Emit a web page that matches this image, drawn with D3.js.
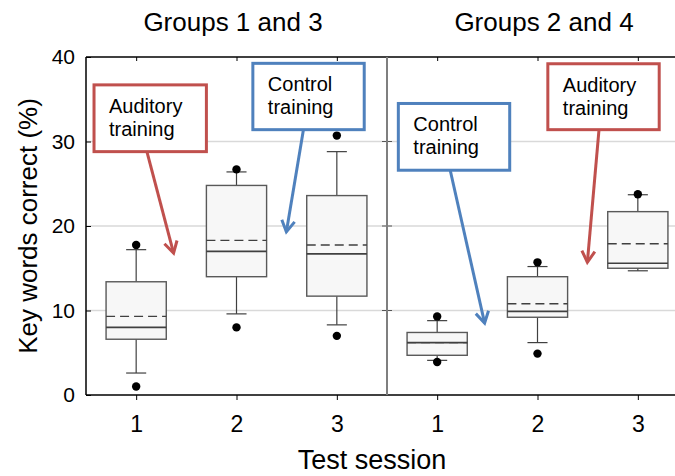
<!DOCTYPE html>
<html>
<head>
<meta charset="utf-8">
<script src="https://cdn.jsdelivr.net/npm/d3@7"></script>
<style>
  body { margin: 0; background: #fff; }
  svg { display: block; font-family: "Liberation Sans", Arial, sans-serif; }
</style>
</head>
<body>
<div id="chart"></div>
<script>
// values
const sessions = [1, 2, 3];
const panelTitles = ["Groups 1 and 3", "Groups 2 and 4"];
const yTicks = [0, 10, 20, 30, 40];

// per panel, one entry per session
const lowDot    = [[1.0, 8.0, 7.0],    [3.9, 4.9, null]];
const whiskLow  = [[2.6, 9.6, 8.3],    [4.1, 6.2, 14.7]];
const q1        = [[6.6, 14.0, 11.7],  [4.7, 9.2, 15.0]];
const median    = [[8.0, 17.0, 16.7],  [6.2, 9.9, 15.6]];
const mean      = [[9.3, 18.3, 17.75], [6.2, 10.8, 17.9]];
const q3        = [[13.4, 24.8, 23.6], [7.4, 14.0, 21.7]];
const whiskHigh = [[17.2, 26.4, 28.8], [8.8, 15.2, 23.7]];
const highDot   = [[17.75, 26.7, 30.7],[9.3, 15.7, 23.75]];

// callouts: panel, box corners (session, value), arrow from -> to
const calloutLabels = [["Auditory", "training"], ["Control", "training"], ["Control", "training"], ["Auditory", "training"]];
const calloutPanel  = [0, 0, 1, 1];
const calloutColor  = ["#c0504d", "#4f81bd", "#4f81bd", "#c0504d"];
const calloutBox    = [[0.58, 36.7, 1.70, 28.8], [2.163, 39.25, 3.273, 31.4], [0.613, 34.5, 1.723, 26.6], [2.103, 39.2, 3.213, 31.4]];
const calloutArrow  = [[1.107, 28.8, 1.373, 16.8], [2.667, 31.4, 2.497, 19.3], [1.13, 26.6, 1.473, 8.5], [2.613, 31.4, 2.497, 15.7]];

const svgWidth = 675;
const svgHeight = 476;
const plotTop = 57, plotBottom = 395, plotLeft = 86, plotRight = 675;

const svg = d3.select("#chart").append("svg")
    .attr("width", svgWidth)
    .attr("height", svgHeight);

const yScale = d3.scaleLinear().domain([0, 40]).range([plotBottom, plotTop]);
const xScales = [
    d3.scaleLinear().domain([0.5, 3.5]).range([86, 387]),
    d3.scaleLinear().domain([0.5, 3.5]).range([387, 688])
];

// grid
svg.append("g")
    .selectAll("line")
    .data([10, 20, 30])
    .enter()
    .append("line")
    .attr("x1", plotLeft)
    .attr("x2", plotRight)
    .attr("y1", d => yScale(d))
    .attr("y2", d => yScale(d))
    .attr("stroke", "#d9d9d9")
    .attr("stroke-width", 1.3);

// y axis (ticks inside)
svg.append("g")
    .attr("transform", "translate(" + plotLeft + ",0)")
    .call(d3.axisLeft(yScale).tickValues(yTicks).tickSize(-5).tickPadding(11))
    .call(g => {
        g.select(".domain").remove();
        g.selectAll("line").attr("stroke", "#000");
        g.selectAll("text")
            .attr("font-size", "21px")
            .attr("font-family", "Liberation Sans, Arial, sans-serif")
            .attr("fill", "#000");
    });

// ticks on the divider
svg.append("g")
    .selectAll("line")
    .data([10, 20, 30])
    .enter()
    .append("line")
    .attr("x1", 382)
    .attr("x2", 392)
    .attr("y1", d => yScale(d))
    .attr("y2", d => yScale(d))
    .attr("stroke", "#555")
    .attr("stroke-width", 1);

xScales.forEach((xScale, p) => {
    svg.append("g")
        .attr("transform", "translate(0," + plotBottom + ")")
        .call(d3.axisBottom(xScale).tickValues(sessions).tickFormat(d3.format("d")).tickSize(5).tickPadding(16))
        .call(g => {
            g.select(".domain").remove();
            g.selectAll("line").attr("stroke", "#000");
            g.selectAll("text")
                .attr("font-size", "23px")
                .attr("font-family", "Liberation Sans, Arial, sans-serif")
                .attr("fill", "#000");
        });
    svg.append("g")
        .attr("transform", "translate(0," + plotTop + ")")
        .call(d3.axisTop(xScale).tickValues(sessions).tickFormat("").tickSize(-4))
        .call(g => {
            g.select(".domain").remove();
            g.selectAll("line").attr("stroke", "#000");
        });

    svg.append("text")
        .attr("x", p === 0 ? 233 : 544)
        .attr("y", 31)
        .attr("text-anchor", "middle")
        .attr("font-size", "26px")
        .attr("fill", "#000")
        .text(panelTitles[p]);

    const boxW = 0.6, capW = 0.2;
    const boxes = svg.append("g");
    sessions.forEach((s, i) => {
        const b = boxes.append("g");
        const cx = xScale(s);
        const half = (xScale(s + boxW / 2) - xScale(s - boxW / 2)) / 2;
        const capHalf = (xScale(s + capW / 2) - xScale(s - capW / 2)) / 2;
        // whiskers
        b.append("line")
            .attr("x1", cx).attr("x2", cx)
            .attr("y1", yScale(whiskHigh[p][i])).attr("y2", yScale(q3[p][i]))
            .attr("stroke", "#404040").attr("stroke-width", 1.2);
        b.append("line")
            .attr("x1", cx).attr("x2", cx)
            .attr("y1", yScale(q1[p][i])).attr("y2", yScale(whiskLow[p][i]))
            .attr("stroke", "#404040").attr("stroke-width", 1.2);
        [whiskHigh[p][i], whiskLow[p][i]].forEach(v => {
            b.append("line")
                .attr("x1", cx - capHalf).attr("x2", cx + capHalf)
                .attr("y1", yScale(v)).attr("y2", yScale(v))
                .attr("stroke", "#404040").attr("stroke-width", 1.2);
        });
        b.append("rect")
            .attr("x", cx - half)
            .attr("width", half * 2)
            .attr("y", yScale(q3[p][i]))
            .attr("height", yScale(q1[p][i]) - yScale(q3[p][i]))
            .attr("fill", "#f7f7f7")
            .attr("stroke", "#595959")
            .attr("stroke-width", 1.4);
        b.append("line")
            .attr("x1", cx - half).attr("x2", cx + half)
            .attr("y1", yScale(mean[p][i])).attr("y2", yScale(mean[p][i]))
            .attr("stroke", "#404040").attr("stroke-width", 1.3)
            .attr("stroke-dasharray", "9,5");
        b.append("line")
            .attr("x1", cx - half).attr("x2", cx + half)
            .attr("y1", yScale(median[p][i])).attr("y2", yScale(median[p][i]))
            .attr("stroke", "#404040").attr("stroke-width", 1.6);
        [highDot[p][i], lowDot[p][i]].forEach(v => {
            if (v == null) return;
            b.append("circle")
                .attr("cx", cx)
                .attr("cy", yScale(v))
                .attr("r", 4.2)
                .attr("fill", "#000");
        });
    });
});

// frame
svg.append("line")
    .attr("x1", plotLeft).attr("x2", plotLeft)
    .attr("y1", plotTop).attr("y2", plotBottom)
    .attr("stroke", "#000").attr("stroke-width", 1.5);
svg.append("line")
    .attr("x1", plotLeft).attr("x2", plotRight)
    .attr("y1", plotTop).attr("y2", plotTop)
    .attr("stroke", "#000").attr("stroke-width", 1.5);
svg.append("line")
    .attr("x1", plotLeft).attr("x2", plotRight)
    .attr("y1", plotBottom).attr("y2", plotBottom)
    .attr("stroke", "#000").attr("stroke-width", 1.5);
svg.append("line")
    .attr("x1", 387).attr("x2", 387)
    .attr("y1", plotTop).attr("y2", plotBottom)
    .attr("stroke", "#7f7f7f").attr("stroke-width", 2);

// callouts
calloutLabels.forEach((lines, k) => {
    const xs = xScales[calloutPanel[k]];
    const [bx0, by0, bx1, by1] = calloutBox[k];
    const [ax0, ay0, ax1, ay1] = calloutArrow[k];
    const g = svg.append("g");
    const x0 = xs(bx0), y0 = yScale(by0);
    g.append("rect")
        .attr("x", x0)
        .attr("y", y0)
        .attr("width", xs(bx1) - x0)
        .attr("height", yScale(by1) - y0)
        .attr("fill", "#fff")
        .attr("stroke", calloutColor[k])
        .attr("stroke-width", 3);
    lines.forEach((t, j) => {
        g.append("text")
            .attr("x", x0 + 15)
            .attr("y", y0 + 28 + j * 23)
            .attr("font-size", "20px")
            .attr("fill", "#000")
            .text(t);
    });
    const sx = xs(ax0), sy = yScale(ay0), tx = xs(ax1), ty = yScale(ay1);
    g.append("line")
        .attr("x1", sx).attr("y1", sy)
        .attr("x2", tx).attr("y2", ty)
        .attr("stroke", calloutColor[k])
        .attr("stroke-width", 3);
    const ang = Math.atan2(ty - sy, tx - sx);
    const len = 13, spread = Math.PI / 6;
    const head = [
        [tx - len * Math.cos(ang - spread), ty - len * Math.sin(ang - spread)],
        [tx, ty],
        [tx - len * Math.cos(ang + spread), ty - len * Math.sin(ang + spread)]
    ];
    g.append("path")
        .attr("d", d3.line()(head))
        .attr("fill", "none")
        .attr("stroke", calloutColor[k])
        .attr("stroke-width", 3)
        .attr("stroke-linejoin", "miter");
});

// axis titles
svg.append("text")
    .attr("transform", "translate(37,226) rotate(-90)")
    .attr("text-anchor", "middle")
    .attr("font-size", "26px")
    .attr("fill", "#000")
    .text("Key words correct (%)");

svg.append("text")
    .attr("x", 372)
    .attr("y", 469)
    .attr("text-anchor", "middle")
    .attr("font-size", "27px")
    .attr("fill", "#000")
    .text("Test session");
</script>
</body>
</html>
